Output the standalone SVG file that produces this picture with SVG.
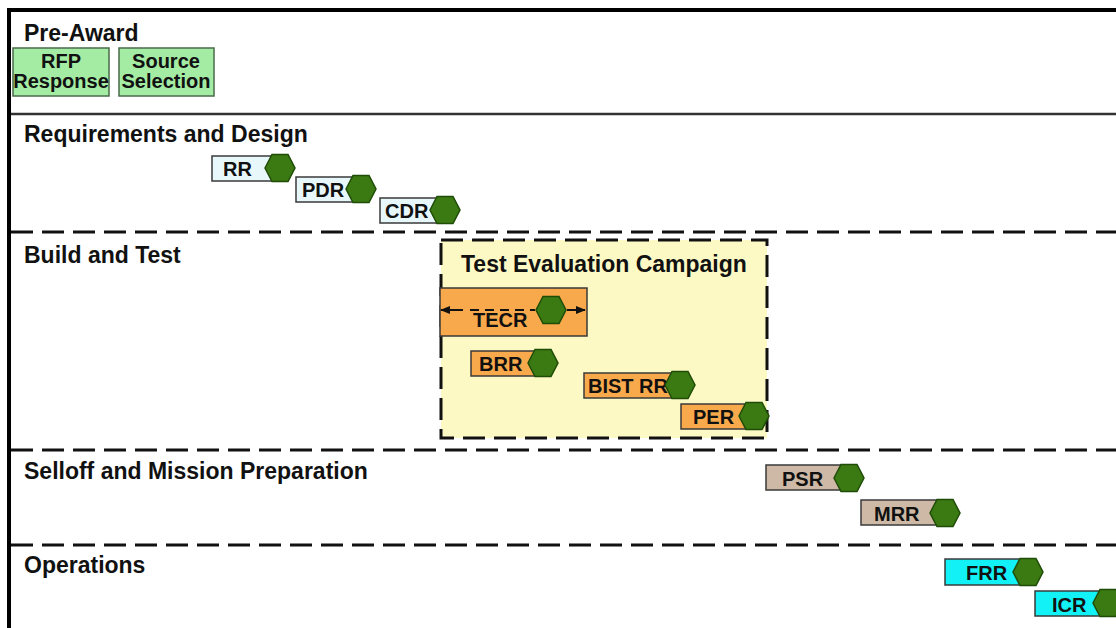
<svg xmlns="http://www.w3.org/2000/svg" width="1116" height="628" viewBox="0 0 1116 628">
<style>
text{font-family:"Liberation Sans",Arial,sans-serif;font-weight:bold;fill:#111}
.lane{font-size:23px}
.lbl{font-size:20px}
.pre{font-size:20px;text-anchor:middle}
.box{stroke:#3a3a3a;stroke-width:1.5}
.green{fill:#a4eca4;stroke:#4a6a4a;stroke-width:1.5}
.blue{fill:#e8f8fa}
.orange{fill:#f8a94b}
.tan{fill:#cdb9a5}
.cyan{fill:#12f2f6}
.hex{fill:#3b7a12;stroke:#1f4d08;stroke-width:1.5}
.dash{stroke:#111;stroke-width:3;stroke-dasharray:22 9;fill:none}
.tec{stroke:#111;stroke-width:3;stroke-dasharray:22 9;fill:#fdf9c4}
</style>
<defs>
<path id="hx" class="hex" d="M-15,0 L-8,-13.5 L8,-13.5 L15,0 L8,13.5 L-8,13.5 Z"/>
<marker id="arr" viewBox="0 0 10 10" refX="9" refY="5" markerWidth="10" markerHeight="10" markerUnits="userSpaceOnUse" orient="auto-start-reverse">
<path d="M0,1 L10,5 L0,9 Z" fill="#111"/>
</marker>
</defs>
<rect width="1116" height="628" fill="#fff"/>
<line x1="7" y1="10" x2="1116" y2="10" stroke="#000" stroke-width="4"/>
<line x1="9" y1="8" x2="9" y2="628" stroke="#000" stroke-width="4"/>
<line x1="11" y1="114" x2="1116" y2="114" stroke="#333" stroke-width="2.5"/>
<line x1="11" y1="232" x2="1116" y2="232" class="dash"/>
<line x1="11" y1="450" x2="1116" y2="450" class="dash"/>
<line x1="11" y1="545" x2="1116" y2="545" class="dash"/>
<text class="lane" x="24" y="41">Pre-Award</text>
<text class="lane" x="24" y="142">Requirements and Design</text>
<text class="lane" x="24" y="263">Build and Test</text>
<text class="lane" x="24" y="479">Selloff and Mission Preparation</text>
<text class="lane" x="24" y="573">Operations</text>

<g id="rfp">
<rect class="green" x="13" y="48" width="96" height="48"/>
<text class="pre" x="61" y="68">RFP</text>
<text class="pre" x="61" y="88">Response</text>
</g>
<g id="source-selection">
<rect class="green" x="119" y="48" width="95" height="48"/>
<text class="pre" x="166" y="68">Source</text>
<text class="pre" x="166" y="88">Selection</text>
</g>

<g id="rr">
<rect class="box blue" x="212" y="156" width="68" height="25"/>
<text class="lbl" x="223" y="176">RR</text>
<use href="#hx" x="280" y="168"/>
</g>
<g id="pdr">
<rect class="box blue" x="296" y="177" width="65" height="25"/>
<text class="lbl" x="302" y="197">PDR</text>
<use href="#hx" x="361" y="189"/>
</g>
<g id="cdr">
<rect class="box blue" x="380" y="198" width="65" height="25"/>
<text class="lbl" x="385" y="218">CDR</text>
<use href="#hx" x="445" y="210"/>
</g>

<g id="test-evaluation-campaign">
<rect class="tec" x="441" y="240" width="326" height="198"/>
<text x="461" y="272" style="font-size:23px">Test Evaluation Campaign</text>
</g>

<g id="tecr">
<rect class="box orange" x="440" y="288" width="147" height="48"/>
<text class="lbl" x="473" y="327">TECR</text>
<use href="#hx" x="551" y="310"/>
</g>
<g id="connectors">
<line x1="463" y1="310" x2="441" y2="310" stroke="#111" stroke-width="2" marker-end="url(#arr)"/>
<line x1="470" y1="310" x2="535" y2="310" stroke="#111" stroke-width="2" stroke-dasharray="9 6"/>
<line x1="567" y1="310" x2="585" y2="310" stroke="#111" stroke-width="2" marker-end="url(#arr)"/>
</g>

<g id="brr">
<rect class="box orange" x="471" y="351" width="72" height="25"/>
<text class="lbl" x="479" y="371">BRR</text>
<use href="#hx" x="543" y="363"/>
</g>
<g id="bist-rr">
<rect class="box orange" x="584" y="373" width="96" height="25"/>
<text class="lbl" x="588" y="393">BIST RR</text>
<use href="#hx" x="680" y="385"/>
</g>
<g id="per">
<rect class="box orange" x="681" y="404" width="73" height="25"/>
<text class="lbl" x="693" y="424">PER</text>
<use href="#hx" x="754" y="416"/>
</g>

<g id="psr">
<rect class="box tan" x="766" y="465" width="83" height="25"/>
<text class="lbl" x="782" y="486">PSR</text>
<use href="#hx" x="849" y="478"/>
</g>
<g id="mrr">
<rect class="box tan" x="861" y="500" width="84" height="25"/>
<text class="lbl" x="874" y="521">MRR</text>
<use href="#hx" x="945" y="513"/>
</g>

<g id="frr">
<rect class="box cyan" x="945" y="559" width="83" height="26"/>
<text class="lbl" x="966" y="580">FRR</text>
<use href="#hx" x="1028" y="572"/>
</g>
<g id="icr">
<rect class="box cyan" x="1035" y="591" width="73" height="25"/>
<text class="lbl" x="1052" y="612">ICR</text>
<use href="#hx" x="1108" y="603"/>
</g>
</svg>
